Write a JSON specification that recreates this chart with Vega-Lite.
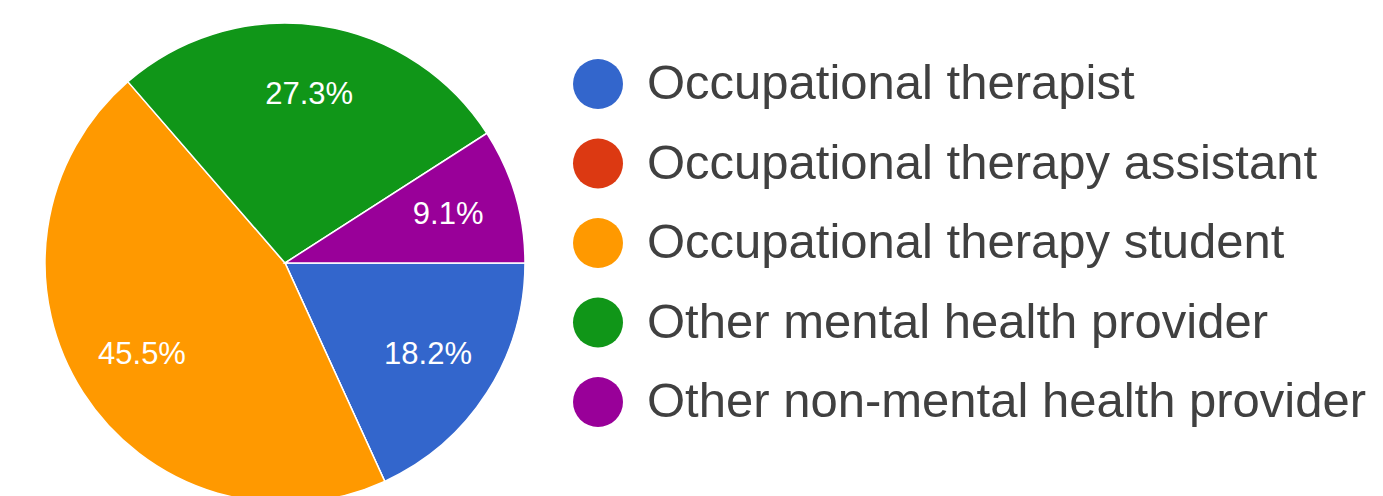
{
  "$schema": "https://vega.github.io/schema/vega-lite/v6.json",
  "width": 570,
  "height": 526,
  "padding": 0,
  "background": "white",
  "config": {"view": {"stroke": null}},
  "data": {
    "values": [
      {"category": "Occupational therapist", "pct": 18.2, "label": "18.2%", "order": 1},
      {"category": "Occupational therapy assistant", "pct": 0, "label": "0%", "order": 2},
      {"category": "Occupational therapy student", "pct": 45.5, "label": "45.5%", "order": 3},
      {"category": "Other mental health provider", "pct": 27.3, "label": "27.3%", "order": 4},
      {"category": "Other non-mental health provider", "pct": 9.1, "label": "9.1%", "order": 5}
    ]
  },
  "encoding": {
    "theta": {"field": "pct", "type": "quantitative", "stack": true, "scale": {"range": [1.5707963, 7.8539816]}},
    "order": {"field": "order", "type": "quantitative"},
    "color": {
      "field": "category",
      "type": "nominal",
      "scale": {
        "domain": ["Occupational therapist", "Occupational therapy assistant", "Occupational therapy student", "Other mental health provider", "Other non-mental health provider"],
        "range": ["#3366cc", "#dc3912", "#ff9900", "#109618", "#990099"]
      },
      "legend": {
        "title": null,
        "orient": "none",
        "legendX": 573,
        "legendY": 59,
        "padding": 0,
        "symbolType": "circle",
        "symbolSize": 2500,
        "symbolStrokeWidth": 0,
        "symbolOpacity": 1,
        "labelFont": "Liberation Sans",
        "labelFontSize": 49,
        "labelColor": "#404040",
        "labelOffset": 24,
        "labelLimit": 900,
        "rowPadding": 29.5
      }
    }
  },
  "layer": [
    {
      "mark": {"type": "arc", "outerRadius": 240, "stroke": "white", "strokeWidth": 1.5}
    },
    {
      "transform": [{"filter": "datum.pct > 0"}],
      "mark": {"type": "text", "radius": 170, "font": "Liberation Sans", "fontSize": 31, "fill": "white", "align": "center", "baseline": "middle"},
      "encoding": {
        "text": {"field": "label", "type": "nominal"},
        "color": {"value": "white"}
      }
    }
  ]
}
